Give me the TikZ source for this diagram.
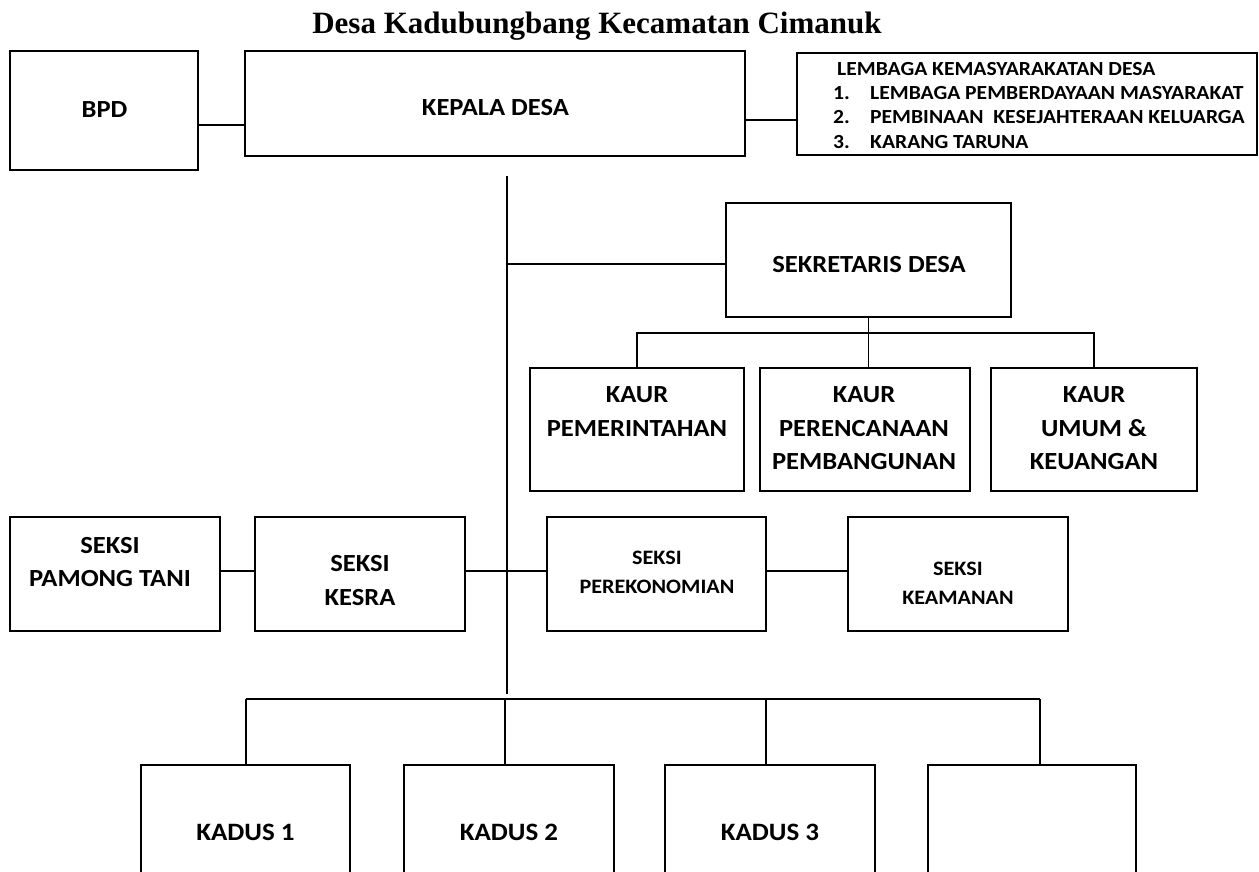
\documentclass[tikz,border=0pt]{standalone}
\usepackage{fontspec}
\setmainfont{Carlito}[FakeStretch=1.08]
\newfontfamily\titlefont{Liberation Serif}
\begin{document}
\begin{tikzpicture}[x=1pt,y=-1pt,
  box/.style={draw, line width=1.4pt, inner sep=0pt, outer sep=0pt},
  thickbox/.style={draw, line width=2.6pt, inner sep=0pt, outer sep=0pt},
  conn/.style={line width=1.4pt},
  lbl/.style={font=\bfseries\fontsize{24.6}{33.5}\selectfont, align=center, inner sep=0pt},
  slbl/.style={font=\bfseries\fontsize{20.5}{29}\selectfont, align=center, inner sep=0pt},
  klbl/.style={font=\bfseries\fontsize{20}{24.5}\selectfont, anchor=base west, inner sep=0pt},
  ]
\useasboundingbox (0,0) rectangle (1259,871);
\clip (0,0) rectangle (1259,871);

% title
\node[font=\titlefont\bfseries\fontsize{31}{36}\selectfont, anchor=base, inner sep=0pt] (title) at (597,33) {Desa Kadubungbang Kecamatan Cimanuk};

% boxes
\node[box, minimum width=188, minimum height=119] (bpd) at (104,110.5) {};
\node[box, minimum width=500, minimum height=105] (kd) at (495,103.5) {};
\node[thickbox, minimum width=460, minimum height=102] (lkd) at (1027,104) {};
\node[box, minimum width=285, minimum height=114] (sek) at (868.5,260) {};
\node[box, minimum width=214, minimum height=123] (k1) at (637,429.5) {};
\node[box, minimum width=210, minimum height=123] (k2) at (865,429.5) {};
\node[box, minimum width=206, minimum height=123] (k3) at (1094,429.5) {};
\node[box, minimum width=210, minimum height=114] (pt) at (115,574) {};
\node[box, minimum width=210, minimum height=114] (ks) at (360,574) {};
\node[box, minimum width=219, minimum height=114] (pe) at (656.5,574) {};
\node[box, minimum width=220, minimum height=114] (ka) at (958,574) {};
\node[box, minimum width=209, minimum height=140] (d1) at (245.5,835) {};
\node[box, minimum width=210, minimum height=140] (d2) at (509,835) {};
\node[box, minimum width=210, minimum height=140] (d3) at (770,835) {};
\node[box, minimum width=208, minimum height=140] (d4) at (1032,835) {};

% labels
\node[lbl] (tbpd) at (104.5,110) {BPD};
\node[lbl] (tkd) at (495.5,108) {KEPALA DESA};
\node[klbl] (tl0) at (837,75) {LEMBAGA KEMASYARAKATAN DESA};
\node[klbl] (tl1n) at (833,99) {1.};
\node[klbl] (tl1) at (870,99) {LEMBAGA PEMBERDAYAAN MASYARAKAT};
\node[klbl] (tl2n) at (833,123.5) {2.};
\node[klbl] (tl2) at (870,123.5) {PEMBINAAN\ \ KESEJAHTERAAN KELUARGA};
\node[klbl] (tl3n) at (833,148) {3.};
\node[klbl] (tl3) at (870,148) {KARANG TARUNA};
\node[lbl] (tsek) at (869,265) {SEKRETARIS DESA};
\node[lbl] (tk1) at (637,411.5) {KAUR\\PEMERINTAHAN};
\node[lbl] (tk2) at (864,428.5) {KAUR\\PERENCANAAN\\PEMBANGUNAN};
\node[lbl] (tk3) at (1094,428.5) {KAUR\\UMUM \&\\KEUANGAN};
\node[lbl] (tpt) at (110,562) {SEKSI\\PAMONG TANI};
\node[lbl] (tks) at (360,580.5) {SEKSI\\KESRA};
\node[slbl] (tpe) at (657,572.5) {SEKSI\\PEREKONOMIAN};
\node[slbl] (tka) at (958,583.5) {SEKSI\\KEAMANAN};
\node[lbl, font=\bfseries\fontsize{25}{30}\selectfont] (td1) at (245.5,832) {KADUS 1};
\node[lbl, font=\bfseries\fontsize{25}{30}\selectfont] (td2) at (509,832) {KADUS 2};
\node[lbl, font=\bfseries\fontsize{25}{30}\selectfont] (td3) at (770,832) {KADUS 3};

% connector helper coordinates
\coordinate (ybpd) at (0,125);
\coordinate (ylkd) at (0,120);
\coordinate (vtop) at (507,176);
\coordinate (vbot) at (507,694);
\coordinate (ysek) at (0,264);
\coordinate (kbar) at (0,333);
\coordinate (yseksi) at (0,571);
\coordinate (bl) at (246,699);
\coordinate (br) at (1040,699);
\coordinate (x2) at (505,0);
\coordinate (x3) at (766,0);

% connectors
\draw[conn] (bpd.east |- ybpd) -- (kd.west |- ybpd);
\draw[conn] (kd.east |- ylkd) -- (lkd.west |- ylkd);
\draw[conn] (vtop) -- (vbot);
\draw[conn] (vtop |- ysek) -- (sek.west |- ysek);
\draw[conn] (sek.south) -- (sek.south |- k2.north);
\draw[conn] (k1.north) -- (k1.north |- kbar) -- (k3.north |- kbar) -- (k3.north);
\draw[conn] (pt.east |- yseksi) -- (ks.west |- yseksi);
\draw[conn] (ks.east |- yseksi) -- (pe.west |- yseksi);
\draw[conn] (pe.east |- yseksi) -- (ka.west |- yseksi);
\draw[conn] (bl) -- (br);
\draw[conn] (bl) -- (bl |- d1.north);
\draw[conn] (x2 |- bl) -- (x2 |- d2.north);
\draw[conn] (x3 |- bl) -- (x3 |- d3.north);
\draw[conn] (br) -- (br |- d4.north);
\end{tikzpicture}
\end{document}
